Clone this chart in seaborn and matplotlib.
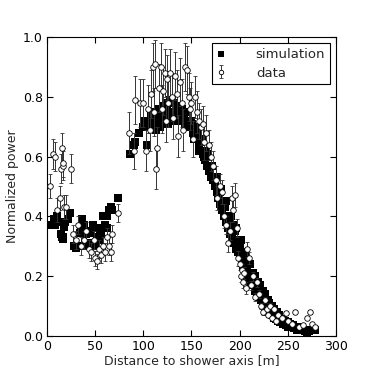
import matplotlib
matplotlib.use("Agg")
import matplotlib.pyplot as plt
import seaborn as sns
import numpy as np
import pandas as pd

# ---- simulation (black squares) ----
sim_x = [2, 5, 7, 8, 10, 12, 14, 15, 16, 17, 18, 19, 22, 24,
         28, 30, 32, 34, 35, 36, 38, 40, 40, 42, 44, 45, 46, 48, 50, 50, 52, 54, 55, 56, 58, 58, 60, 62, 62, 64, 66, 67, 74,
         86, 90, 91, 95, 100, 102, 104, 106, 108, 110, 112, 114, 116, 118, 120, 122, 124, 126, 128, 130,
         132, 134, 136, 138, 140, 142, 144, 146, 148, 150, 152, 154, 156, 158, 160, 162, 164, 166, 168,
         170, 172, 174, 176, 178, 180, 182, 184, 186, 188, 190, 192, 194, 196, 198, 200, 202, 204, 206,
         208, 210, 212, 214, 216, 218, 220, 222, 224, 226, 228, 230, 232, 234, 236, 238, 240, 242, 245,
         248, 250, 253, 256, 260, 264, 268, 270, 272, 275, 278,
         110, 115, 120, 125, 130, 135, 140, 145, 150, 155, 160, 165, 170, 175, 180, 185, 190, 195, 200,
         205, 210, 215, 220, 225, 230, 235, 240, 245, 250, 255, 260, 265,
         153, 158, 163, 168, 173, 178, 183, 188, 193, 198, 203, 208, 213, 218, 223, 228, 233, 238, 243,
         151, 156, 161, 166, 171, 176, 181, 186, 191, 196, 201, 206, 211, 216, 221, 226, 231, 236, 241, 247, 252, 258, 263, 268,
         199, 204, 209, 214, 219, 224, 229, 234, 239, 113, 118, 123, 128, 133, 138, 143, 117, 127, 137]
sim_y = [0.37, 0.37, 0.39, 0.37, 0.40, 0.38, 0.34, 0.33, 0.325, 0.33, 0.365, 0.38, 0.39, 0.41,
         0.30, 0.295, 0.30, 0.345, 0.35, 0.39, 0.37, 0.34, 0.30, 0.35, 0.30, 0.345, 0.31, 0.37, 0.36, 0.30, 0.33, 0.32, 0.35, 0.34, 0.36, 0.40, 0.37, 0.36, 0.40, 0.42, 0.43, 0.42, 0.46,
         0.61, 0.64, 0.65, 0.68, 0.70, 0.72, 0.64, 0.70, 0.74, 0.72, 0.75, 0.72, 0.76, 0.73, 0.77, 0.74, 0.78, 0.71, 0.79, 0.72,
         0.78, 0.75, 0.77, 0.72, 0.76, 0.74, 0.75, 0.72, 0.71, 0.70, 0.68, 0.67, 0.66, 0.64, 0.62, 0.61, 0.59, 0.57, 0.55,
         0.53, 0.52, 0.50, 0.48, 0.46, 0.44, 0.42, 0.40, 0.38, 0.36, 0.34, 0.33, 0.31, 0.29, 0.28, 0.27, 0.25, 0.23, 0.22,
         0.20, 0.19, 0.18, 0.17, 0.15, 0.14, 0.13, 0.12, 0.11, 0.10, 0.09, 0.08, 0.075, 0.07, 0.06, 0.055, 0.05, 0.045, 0.04,
         0.035, 0.03, 0.03, 0.025, 0.02, 0.02, 0.015, 0.01, 0.015, 0.02, 0.02,
         0.70, 0.74, 0.72, 0.76, 0.75, 0.73, 0.72, 0.70, 0.72, 0.70, 0.65, 0.62, 0.57, 0.53, 0.48, 0.43, 0.38, 0.35, 0.30,
         0.27, 0.24, 0.20, 0.17, 0.14, 0.11, 0.09, 0.07, 0.055, 0.045, 0.035, 0.03, 0.025,
         0.66, 0.62, 0.60, 0.56, 0.52, 0.49, 0.45, 0.40, 0.37, 0.31, 0.26, 0.23, 0.20, 0.16, 0.14, 0.11, 0.085, 0.07, 0.05,
         0.71, 0.68, 0.66, 0.61, 0.57, 0.53, 0.49, 0.45, 0.40, 0.36, 0.32, 0.28, 0.24, 0.20, 0.17, 0.14, 0.11, 0.09, 0.07, 0.05, 0.04, 0.03, 0.025, 0.02,
         0.32, 0.28, 0.25, 0.21, 0.18, 0.15, 0.12, 0.10, 0.08, 0.69, 0.72, 0.75, 0.74, 0.73, 0.74, 0.71, 0.70, 0.73, 0.74]

# ---- data (open circles with error bars) ----
dat_x = [3, 6, 8, 10, 13, 14, 15, 16, 17, 18, 20, 25, 27, 30, 32, 35, 38, 40, 43, 46, 49, 50, 52, 54, 56,
         58, 60, 62, 64, 66, 67, 74,
         85, 90, 91, 96, 100, 103, 105, 107, 108, 110, 111, 112, 113, 114, 116, 118, 119, 120, 122, 123,
         125, 126, 128, 130, 131, 133, 135, 136, 138, 140, 141, 143, 145, 147, 148, 150, 152, 154, 156,
         158, 160, 162, 163, 165, 168, 170, 172, 175, 177, 180, 182, 184, 186, 188, 190, 192, 193, 195,
         197, 198, 200, 201, 202, 204, 205, 207, 208, 210, 212, 214, 216, 218, 220, 222, 224, 226, 228,
         230, 232, 234, 236, 238, 240, 244, 248, 250, 254, 258, 262, 266, 270, 273, 275, 278]
dat_y = [0.50, 0.61, 0.60, 0.42, 0.46, 0.56, 0.63, 0.57, 0.58, 0.43, 0.43, 0.56, 0.34, 0.32, 0.37, 0.30, 0.32, 0.35, 0.29, 0.28, 0.32, 0.26, 0.25, 0.29, 0.27,
         0.30, 0.28, 0.33, 0.30, 0.28, 0.34, 0.41,
         0.68, 0.62, 0.79, 0.78, 0.78, 0.62, 0.76, 0.69, 0.81, 0.90, 0.75, 0.91, 0.56, 0.63, 0.83, 0.90, 0.76, 0.82, 0.88, 0.72,
         0.86, 0.78, 0.88, 0.80, 0.73, 0.87, 0.81, 0.67, 0.85, 0.78, 0.69, 0.90, 0.89, 0.80, 0.76, 0.78, 0.66, 0.80, 0.75,
         0.72, 0.70, 0.71, 0.65, 0.68, 0.64, 0.60, 0.57, 0.52, 0.46, 0.50, 0.48, 0.40, 0.37, 0.31, 0.35, 0.46, 0.42, 0.47,
         0.36, 0.26, 0.24, 0.20, 0.22, 0.18, 0.21, 0.16, 0.29, 0.26, 0.17, 0.20, 0.13, 0.18, 0.14, 0.10, 0.08, 0.12, 0.09,
         0.07, 0.10, 0.06, 0.09, 0.05, 0.07, 0.06, 0.075, 0.05, 0.04, 0.08, 0.03, 0.035, 0.06, 0.08, 0.04, 0.03]
dat_err = [0.04, 0.05, 0.05, 0.04, 0.04, 0.05, 0.05, 0.05, 0.05, 0.04, 0.04, 0.05, 0.03, 0.03, 0.03, 0.03, 0.03, 0.03, 0.03, 0.03, 0.03, 0.025, 0.025, 0.03, 0.025,
           0.03, 0.03, 0.03, 0.03, 0.03, 0.03, 0.03,
           0.07, 0.06, 0.08, 0.08, 0.08, 0.07, 0.08, 0.07, 0.08, 0.08, 0.08, 0.08, 0.07, 0.07, 0.08, 0.08, 0.08, 0.08, 0.08, 0.07,
           0.08, 0.08, 0.08, 0.08, 0.07, 0.08, 0.08, 0.07, 0.08, 0.08, 0.07, 0.08, 0.08, 0.08, 0.07, 0.07, 0.06, 0.07, 0.07,
           0.06, 0.06, 0.06, 0.06, 0.06, 0.05, 0.05, 0.05, 0.05, 0.04, 0.04, 0.04, 0.04, 0.03, 0.03, 0.03, 0.04, 0.04, 0.04,
           0.03, 0.025, 0.02, 0.02, 0.02, 0.02, 0.02, 0.02, 0.025, 0.02, 0.015, 0.015, 0.015, 0.015, 0.012, 0.01, 0.01, 0.01, 0.01,
           0.008, 0.01, 0.008, 0.008, 0.006, 0.006, 0.006, 0.006, 0.005, 0.005, 0.006, 0.004, 0.004, 0.005, 0.006, 0.004, 0.004]

x_ticks = [0, 50, 100, 150, 200, 250, 300]
y_ticks = [0.0, 0.2, 0.4, 0.6, 0.8, 1.0]

sns.set_style("white")
plt.rcParams.update({
    "font.family": ["DejaVu Sans"],
    "xtick.direction": "in", "ytick.direction": "in",
    "xtick.top": True, "ytick.right": True,
    "xtick.major.size": 4, "ytick.major.size": 4,
    "xtick.bottom": True, "ytick.left": True,
    "axes.edgecolor": "black", "axes.linewidth": 0.8,
})

fig = plt.figure(figsize=(3.74, 3.74), dpi=100)
ax = fig.add_axes([0.126, 0.102, 0.772, 0.799])

sim_df = pd.DataFrame({"x": sim_x, "y": sim_y})
sns.scatterplot(data=sim_df, x="x", y="y", marker="s", color="black", s=26,
                edgecolor="black", linewidth=0, ax=ax, label="simulation", zorder=2)

ax.errorbar(dat_x, dat_y, yerr=dat_err, fmt="o", mfc="white", mec="black", ms=4.0,
            mew=0.6, ecolor="#333333", elinewidth=0.7, capsize=1.5, capthick=0.7,
            label="data", zorder=3)

ax.set_xlim(0, 300)
ax.set_ylim(0, 1.0)
ax.set_xticks(x_ticks)
ax.set_yticks(y_ticks)
ax.set_xticklabels([str(v) for v in x_ticks], fontsize=9)
ax.set_yticklabels([f"{v:.1f}" for v in y_ticks], fontsize=9)
ax.tick_params(colors="black", width=0.8, pad=3)
ax.set_xlabel("Distance to shower axis [m]", fontsize=9, labelpad=1)
ax.set_ylabel("Normalized power", fontsize=9, labelpad=3)

leg = ax.legend(loc="upper right", fontsize=9.5, numpoints=1, scatterpoints=1,
                frameon=True, fancybox=False, borderaxespad=0.45, handletextpad=2.2,
                borderpad=0.35, labelspacing=0.45, handlelength=0.8, markerscale=0.8)
leg.get_frame().set_edgecolor("black")
leg.get_frame().set_linewidth(0.8)
leg.get_frame().set_alpha(1)

fig.savefig("out.png", dpi=100)
